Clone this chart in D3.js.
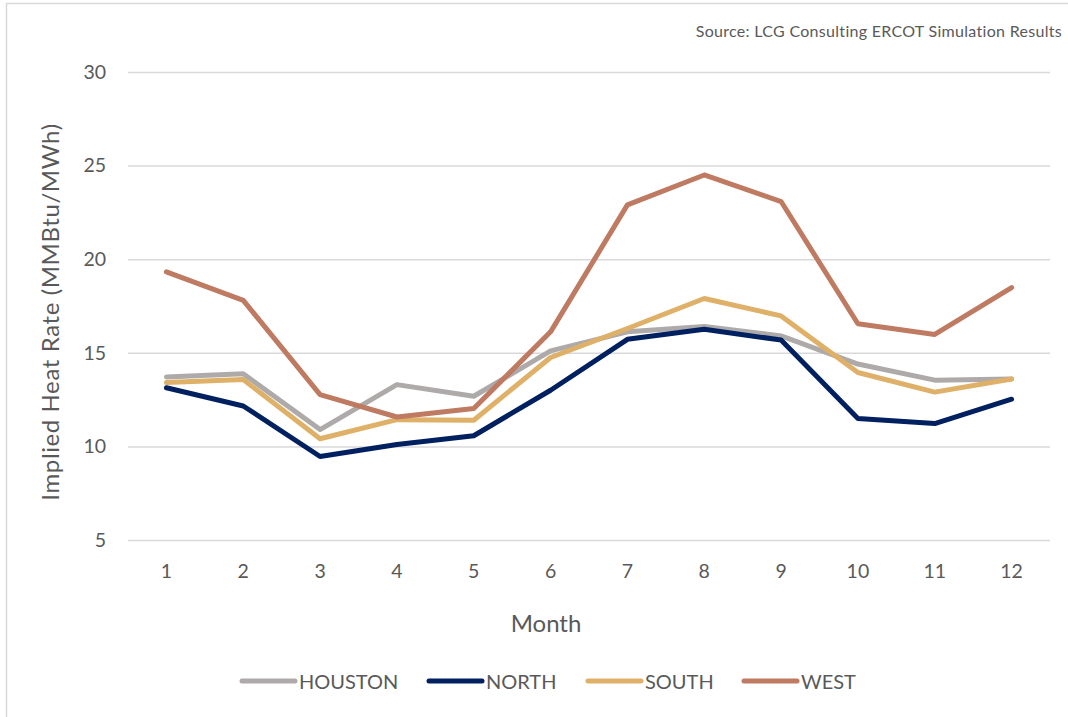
<!DOCTYPE html>
<html>
<head>
<meta charset="utf-8">
<script src="https://cdn.jsdelivr.net/npm/d3@7"></script>
<style>
  html, body { margin: 0; padding: 0; background: #fff; }
  svg { display: block; }
  text { font-family: Lato, "Open Sans", "Liberation Sans", sans-serif; fill: #595959; }
</style>
</head>
<body>
<svg id="chart" width="1068" height="717"></svg>
<script>
const months = ["1","2","3","4","5","6","7","8","9","10","11","12"];
const houston = [13.71, 13.88, 10.9, 13.3, 12.68, 15.1, 16.12, 16.4, 15.9, 14.4, 13.54, 13.6];
const north   = [13.13, 12.16, 9.46, 10.1, 10.57, 13.0, 15.72, 16.26, 15.68, 11.49, 11.22, 12.52];
const south   = [13.41, 13.57, 10.41, 11.43, 11.4, 14.75, 16.3, 17.9, 16.97, 13.95, 12.9, 13.6];
const west    = [19.32, 17.8, 12.77, 11.57, 12.02, 16.12, 22.9, 24.5, 23.08, 16.55, 15.98, 18.48];
const yTicks  = [5, 10, 15, 20, 25, 30];
const seriesNames = ["HOUSTON", "NORTH", "SOUTH", "WEST"];
const seriesColors = ["#AEAAAA", "#002060", "#DFB068", "#BF7A62"];
const seriesData = [houston, north, south, west];

const svg = d3.select("#chart");
const W = 1068, H = 717;
const plot = { left: 128, right: 1050, top: 72, bottom: 540 };

// outer border (chart area)
svg.append("line").attr("x1", 6).attr("x2", W).attr("y1", 3.5).attr("y2", 3.5)
  .attr("stroke", "#d9d9d9").attr("stroke-width", 1.5);
svg.append("line").attr("x1", 6.5).attr("x2", 6.5).attr("y1", 3).attr("y2", H)
  .attr("stroke", "#d9d9d9").attr("stroke-width", 1.5);

const x = d3.scaleBand().domain(months).range([plot.left, plot.right]);
const y = d3.scaleLinear().domain([5, 30]).range([plot.bottom, plot.top]);

// gridlines
const yAxis = d3.axisLeft(y).tickValues(yTicks).tickSize(-(plot.right - plot.left)).tickPadding(22);
const gy = svg.append("g").attr("transform", `translate(${plot.left},0)`).call(yAxis);
gy.select(".domain").remove();
gy.selectAll(".tick line").attr("stroke", "#d9d9d9").attr("stroke-width", 1.5);
gy.selectAll(".tick text").attr("font-size", 19.5).attr("fill", "#595959")
  .style("font-family", "Lato, 'Open Sans', sans-serif");

// x axis labels
const xAxis = d3.axisBottom(x).tickSize(0).tickPadding(24);
const gx = svg.append("g").attr("transform", `translate(0,${plot.bottom})`).call(xAxis);
gx.select(".domain").remove();
gx.selectAll(".tick text").attr("font-size", 19.5).attr("fill", "#595959")
  .style("font-family", "Lato, 'Open Sans', sans-serif");

// lines
const line = d3.line()
  .x((d, i) => x(months[i]) + x.bandwidth() / 2)
  .y(d => y(d));

seriesData.forEach((s, k) => {
  svg.append("path")
    .datum(s)
    .attr("d", line)
    .attr("fill", "none")
    .attr("stroke", seriesColors[k])
    .attr("stroke-width", 5)
    .attr("stroke-linejoin", "round")
    .attr("stroke-linecap", "round");
});

// axis titles
svg.append("text").attr("x", 546).attr("y", 632)
  .attr("text-anchor", "middle").attr("font-size", 24).text("Month");
svg.append("text")
  .attr("transform", `translate(59,312) rotate(-90)`)
  .attr("text-anchor", "middle").attr("font-size", 24)
  .attr("letter-spacing", 0.6)
  .text("Implied Heat Rate (MMBtu/MWh)");

// source note
svg.append("text").attr("x", 1062).attr("y", 37).attr("text-anchor", "end")
  .attr("font-size", 16).attr("letter-spacing", 0.3)
  .text("Source: LCG Consulting ERCOT Simulation Results");

// legend
const legendX = [240, 427, 586, 742];
seriesNames.forEach((name, k) => {
  const g = svg.append("g").attr("transform", `translate(${legendX[k]},681)`);
  g.append("line").attr("x1", 2).attr("x2", 55).attr("y1", 0).attr("y2", 0)
    .attr("stroke", seriesColors[k]).attr("stroke-width", 5).attr("stroke-linecap", "round");
  g.append("text").attr("x", 59).attr("y", 7.5).attr("font-size", 20).text(name);
});
</script>
</body>
</html>
